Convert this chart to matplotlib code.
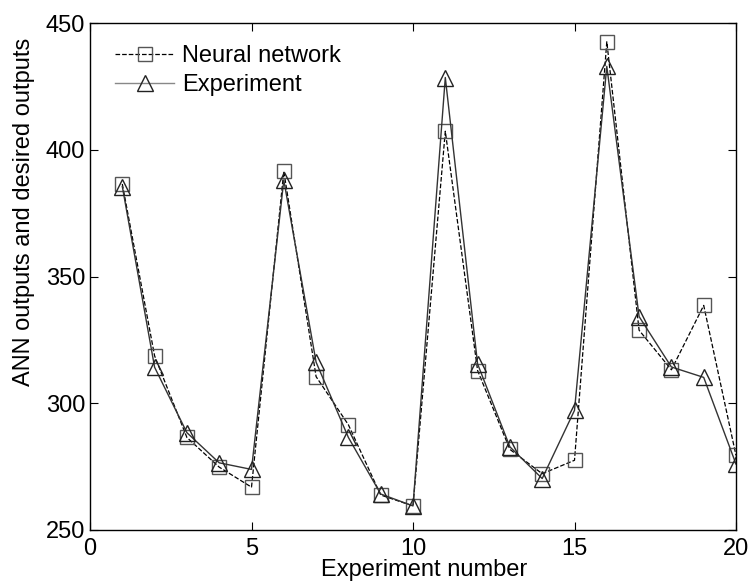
import numpy as np
import matplotlib.pyplot as plt

# data
experiment_no = [1, 2, 3, 4, 5, 6, 7, 8, 9, 10, 11, 12, 13, 14, 15, 16, 17, 18, 19, 20]
neural_net = [386.5, 318.7, 286.5, 274.8, 266.9, 391.5, 310.5, 291.5, 263.8, 259.5,
              407.3, 312.9, 281.8, 272.2, 277.5, 442.6, 328.8, 313.2, 338.6, 279.4]
experiment = [385.5, 314.2, 288.4, 276.5, 273.9, 388.0, 316.2, 286.5, 264.2, 259.5,
              428.5, 315.5, 282.8, 270.3, 297.2, 432.9, 334.2, 314.3, 310.2, 276.0]

plt.rcParams['font.family'] = ['Liberation Sans', 'DejaVu Sans']

fig = plt.figure(figsize=(7.51, 5.86), dpi=100)
ax = fig.add_axes([90/751, 1-530/586, (736-90)/751, (530-23)/586])

ax.plot(experiment_no, neural_net, ls='--', color='black', lw=0.9, marker='s', ms=9.5,
        mfc='none', mec='#555555', mew=1.0, label='Neural network')
ax.plot(experiment_no, experiment, ls='-', color='#333333', lw=1.0, marker='^', ms=11,
        mfc='none', mec='#222222', mew=1.0, label='Experiment')

ax.set_xlim(0, 20)
ax.set_ylim(250, 450)
ax.set_xticks([0, 5, 10, 15, 20])
ax.set_yticks([250, 300, 350, 400, 450])
ax.tick_params(direction='in', top=True, right=True, labelsize=17, length=6, width=0.8)
ax.tick_params(axis='x', pad=6)
ax.tick_params(axis='y', pad=3.5)
for s in ax.spines.values():
    s.set_linewidth(1.0)

ax.set_xlabel('Experiment number', fontsize=17)
ax.xaxis.set_label_coords(0.517, -0.057)
ax.set_ylabel('ANN outputs and desired outputs', fontsize=17)
ax.yaxis.set_label_coords(-0.085, 0.627)

leg = ax.legend(loc='upper left', bbox_to_anchor=(0.039, 0.956), frameon=False, fontsize=17,
                handlelength=2.5, borderaxespad=0, borderpad=0, handletextpad=0.35,
                labelspacing=0.28)
leg.get_lines()[1].set_color('#888888')

fig.savefig('out.png', dpi=100)
